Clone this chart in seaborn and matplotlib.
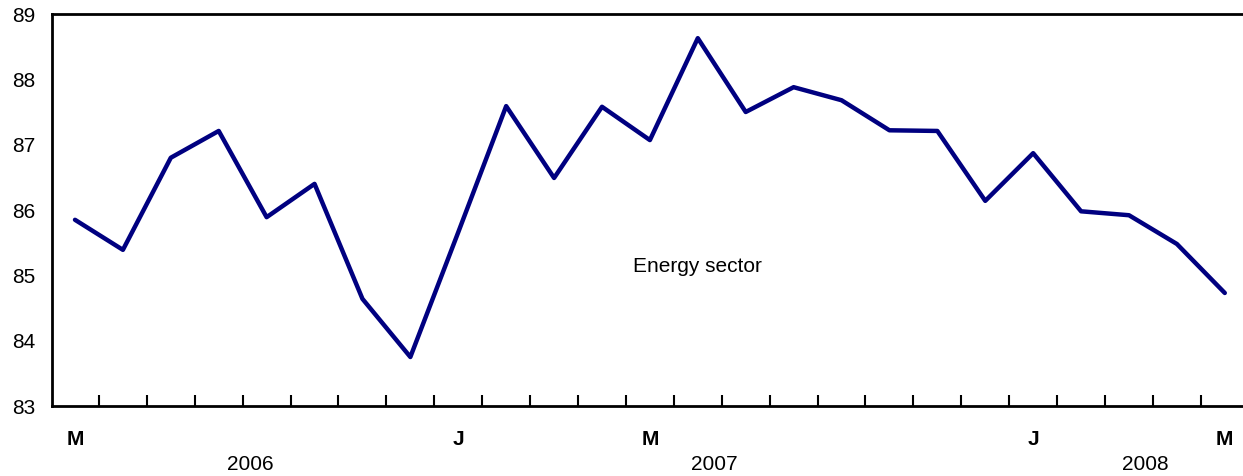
import numpy as np
import pandas as pd
import matplotlib
matplotlib.use("Agg")
import matplotlib.pyplot as plt
import matplotlib.transforms as mtransforms
import seaborn as sns

# Monthly values, May 2006 - May 2008
months = pd.date_range("2006-05-01", "2008-05-01", freq="MS")
values = [85.85, 85.39, 86.80, 87.21, 85.89, 86.40, 84.64, 83.75, 85.66,
          87.59, 86.49, 87.58, 87.07, 88.63, 87.50, 87.88, 87.68, 87.22,
          87.21, 86.14, 86.87, 85.98, 85.92, 85.48, 84.73]
month_labels = ["M", "J", "M", "J", "M"]
month_label_idx = [0, 8, 12, 20, 24]
year_labels = ["2006", "2007", "2008"]
year_label_pos = [3.65, 13.35, 22.35]
series_label = "Energy sector"

df = pd.DataFrame({"idx": np.arange(len(values)), "value": values, "month": months})

sns.set_style("ticks")
plt.rcParams["font.family"] = ["Liberation Sans", "DejaVu Sans"]
plt.rcParams["text.color"] = "black"
plt.rcParams["xtick.color"] = "black"
plt.rcParams["ytick.color"] = "black"

fig = plt.figure(figsize=(12.43, 4.76), dpi=100)
ax = fig.add_axes([52 / 1243, 1 - 406 / 476, (1243 - 52) / 1243, (406 - 14) / 476])

sns.lineplot(data=df, x="idx", y="value", color="#000080", linewidth=3.2, ax=ax)

ax.set_xlim(-0.48, 24.38)
ax.set_ylim(83, 89)
ax.set_yticks(range(83, 90))
ax.tick_params(axis="y", length=0, pad=12, labelsize=15, labelcolor="black")

# labels under selected months, tick marks between months
ax.set_xticks(month_label_idx)
ax.set_xticklabels(month_labels, fontweight="bold", fontsize=15)
ax.tick_params(axis="x", which="major", length=0, pad=17.5, labelcolor="black")
ax.set_xticks(np.arange(0.5, 24.5, 1), minor=True)
ax.tick_params(axis="x", which="minor", direction="in", length=8, width=1.5, color="black")

trans = mtransforms.blended_transform_factory(ax.transData, ax.transAxes)
for lab, pos in zip(year_labels, year_label_pos):
    ax.text(pos, -0.15, lab, transform=trans, ha="center", va="center", fontsize=15)

ax.text(13.0, 85.14, series_label, ha="center", va="center", fontsize=15)

ax.set_xlabel("")
ax.set_ylabel("")
for side in ["left", "top", "bottom"]:
    ax.spines[side].set_linewidth(2)
    ax.spines[side].set_color("black")
ax.spines["right"].set_visible(False)

fig.savefig("out.png", dpi=100)
